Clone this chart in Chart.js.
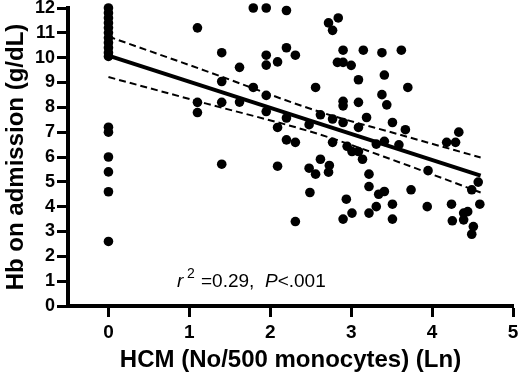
<!DOCTYPE html>
<html>
<head>
<meta charset="utf-8">
<script src="https://cdn.jsdelivr.net/npm/chart.js@4.4.1/dist/chart.umd.min.js"></script>
<style>
html,body{margin:0;padding:0;background:#fff;}
#wrap{width:520px;height:377px;position:relative;}
</style>
</head>
<body>
<div id="wrap"><canvas id="c"></canvas></div>
<script>
// ---- data ----
const xTickValues = [0, 1, 2, 3, 4, 5];
const yTickValues = [0, 1, 2, 3, 4, 5, 6, 7, 8, 9, 10, 11, 12];
const xTitle = 'HCM (No/500 monocytes) (Ln)';
const yTitle = 'Hb on admission (g/dL)';

// HCM (Ln) values of each patient
const hcm = [
  0, 0, 0, 0, 0, 0, 0, 0, 0, 0, 0, 0, 0, 0, 0, 0, 0,
  1.10, 1.79, 1.95, 2.20, 1.40, 2.20, 2.31, 1.95, 1.95, 2.09,
  1.62, 1.40, 1.79, 1.95, 1.10, 1.10, 1.40, 1.62, 1.95, 2.20,
  2.09, 2.20, 2.31, 2.48, 2.56, 1.40, 2.09, 2.48, 2.62, 2.62,
  2.84, 2.72, 2.77, 2.90, 3.15, 3.38, 3.62, 2.83, 2.90, 3.00,
  3.09, 3.41, 3.70, 3.38, 3.44, 2.90, 2.90, 3.09, 2.77, 2.90,
  3.19, 3.09, 3.51, 3.67, 2.77, 2.95, 3.01, 3.09, 3.14, 3.31,
  3.41, 3.59, 4.33, 4.18, 4.29, 2.73, 3.95, 2.72, 2.56, 2.49,
  2.31, 2.94, 3.01, 2.90, 3.22, 3.22, 3.34, 3.41, 3.51, 3.31,
  3.22, 3.51, 3.74, 3.94, 4.24, 4.25, 4.39, 4.44, 4.39, 4.51,
  4.49, 4.59, 4.57, 4.49
];
// Hb on admission (g/dL) of each patient
const hb = [
  12.0, 11.8, 11.6, 11.4, 11.2, 11.0, 10.8, 10.6, 10.4, 10.2, 10.05, 7.2, 7.0, 6.0, 5.4, 4.6, 2.6,
  11.2, 12.0, 12.0, 11.9, 10.2, 10.4, 10.1, 10.1, 9.7, 9.83,
  9.61, 9.04, 8.80, 8.48, 8.20, 7.79, 8.20, 8.21, 7.83, 7.57,
  7.19, 6.69, 6.59, 7.30, 8.80, 5.71, 5.63, 5.55, 7.70, 5.91,
  11.6, 11.4, 11.1, 10.3, 10.3, 10.2, 10.3, 9.81, 9.81, 9.69,
  9.11, 9.30, 8.80, 8.51, 8.10, 8.24, 8.06, 8.20, 7.53, 7.39,
  7.59, 7.19, 7.39, 7.10, 6.59, 6.43, 6.22, 6.22, 5.91, 6.52,
  6.63, 6.49, 7.00, 6.59, 6.59, 5.66, 5.45, 5.39, 5.31, 4.57,
  3.40, 4.30, 3.74, 3.50, 5.31, 4.81, 4.50, 4.61, 4.10, 4.00,
  3.74, 3.50, 4.68, 4.00, 4.10, 3.43, 3.74, 3.80, 3.47, 3.20,
  2.89, 4.10, 4.99, 4.68
];

// regression line and its confidence band
const fitX = [0, 4.6];
const fitY = [10.08, 5.25];
const bandX = [0, 1.2, 2.6, 3.6, 4.6];
const bandUpper = [10.85, 9.47, 7.83, 6.90, 5.98];
const bandLower = [9.22, 8.16, 6.92, 5.78, 4.57];

const statR = 'r';
const statSup = '2';
const statMid = '=0.29,';
const statP = 'P';
const statTail = '<.001';

// ---- chart ----
const FAM = '"Liberation Sans", Arial, Helvetica, sans-serif';
const pts = (xs, ys) => xs.map((x, i) => ({x: x, y: ys[i]}));

const statPlugin = {
  id: 'stat',
  afterDraw(chart) {
    const ctx = chart.ctx;
    ctx.save();
    ctx.fillStyle = '#000';
    ctx.textBaseline = 'alphabetic';
    ctx.textAlign = 'left';
    const y = 287;
    ctx.font = 'italic 19px ' + FAM;
    ctx.fillText(statR, 177, y);
    ctx.font = '14px ' + FAM;
    ctx.fillText(statSup, 187, y - 9);
    ctx.font = '19px ' + FAM;
    ctx.fillText(statMid, 201, y);
    ctx.font = 'italic 19px ' + FAM;
    ctx.fillText(statP, 265, y);
    const pw = ctx.measureText(statP).width;
    ctx.font = '19px ' + FAM;
    ctx.fillText(statTail, 265 + pw, y);
    ctx.restore();
  }
};

new Chart(document.getElementById('c'), {
  type: 'scatter',
  data: {
    datasets: [
      {
        label: 'patients',
        data: pts(hcm, hb),
        pointRadius: 4.8,
        pointHoverRadius: 4.8,
        backgroundColor: '#000',
        borderWidth: 0,
        clip: false
      },
      {
        label: 'fit',
        data: pts(fitX, fitY),
        showLine: true,
        borderColor: '#000',
        borderWidth: 4,
        pointRadius: 0,
        clip: false
      },
      {
        label: 'upper',
        data: pts(bandX, bandUpper),
        showLine: true,
        borderColor: '#000',
        borderWidth: 2,
        borderDash: [7, 4],
        cubicInterpolationMode: 'monotone',
        pointRadius: 0,
        clip: false
      },
      {
        label: 'lower',
        data: pts(bandX, bandLower),
        showLine: true,
        borderColor: '#000',
        borderWidth: 2,
        borderDash: [7, 4],
        cubicInterpolationMode: 'monotone',
        pointRadius: 0,
        clip: false
      }
    ]
  },
  options: {
    responsive: true,
    maintainAspectRatio: false,
    animation: false,
    events: [],
    layout: {padding: {top: 8, right: 7, left: 0, bottom: 0}},
    plugins: {legend: {display: false}, tooltip: {enabled: false}},
    scales: {
      x: {
        type: 'linear',
        min: -0.5,
        max: 5,
        afterBuildTicks(s) { s.ticks = xTickValues.map(v => ({value: v})); },
        afterFit(s) { s.height = 71; s.paddingLeft = 0; s.paddingRight = 0; },
        grid: {display: true, drawOnChartArea: false, drawTicks: true, tickLength: 11, tickWidth: 3, tickColor: '#000'},
        border: {display: true, color: '#000', width: 4},
        ticks: {color: '#000', font: {family: FAM, size: 19, weight: 'bold'}, padding: 4, maxRotation: 0, autoSkip: false},
        title: {display: true, text: xTitle, color: '#000', font: {family: FAM, size: 24, weight: 'bold'}, padding: {top: 0, bottom: 2}}
      },
      y: {
        type: 'linear',
        min: 0,
        max: 12,
        afterBuildTicks(s) { s.ticks = yTickValues.map(v => ({value: v})); },
        afterFit(s) { s.width = 68; s.paddingTop = 0; s.paddingBottom = 0; },
        grid: {display: true, drawOnChartArea: false, drawTicks: true, tickLength: 11, tickWidth: 3, tickColor: '#000'},
        border: {display: true, color: '#000', width: 4},
        ticks: {color: '#000', font: {family: FAM, size: 18, weight: 'bold'}, padding: 2, autoSkip: false},
        title: {display: true, text: yTitle, color: '#000', font: {family: FAM, size: 24, weight: 'bold'}, padding: {top: 2, bottom: 0}}
      }
    }
  },
  plugins: [statPlugin]
});
</script>
</body>
</html>
